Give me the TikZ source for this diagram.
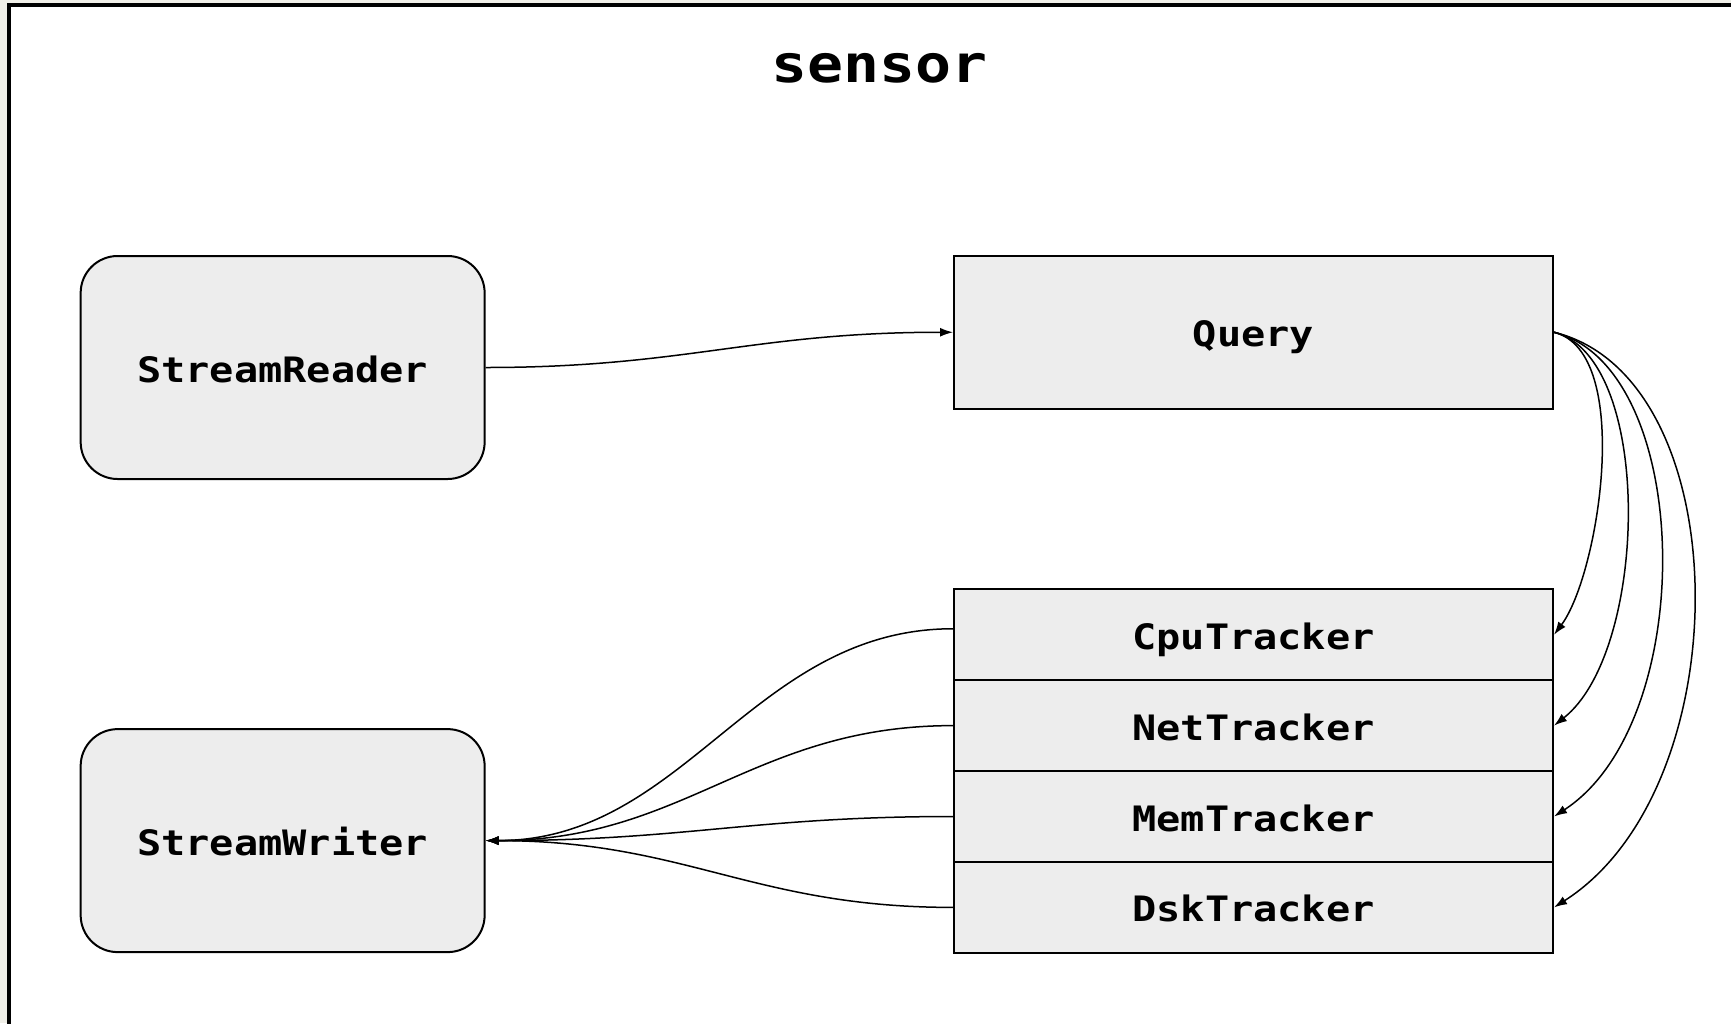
\documentclass[tikz,border=0pt]{standalone}
\usepackage{fontspec}
\usetikzlibrary{arrows.meta,calc}
\newfontfamily\plexish[FakeStretch=1.15]{DejaVu Sans Mono}
\definecolor{pagebg}{RGB}{240,239,232}
\definecolor{boxfill}{RGB}{237,237,237}
\begin{document}
\begin{tikzpicture}[x=1pt,y=-1pt,
  box/.style={draw=black,line width=2pt,fill=boxfill,inner sep=0pt,
    font=\plexish\bfseries\fontsize{35}{40}\selectfont,
    text height=29pt,text depth=0pt,align=center},
  roundbox/.style={box,rounded corners=37pt,minimum width=404pt,minimum height=223pt},
  rectbox/.style={box,minimum width=599pt},
  conn/.style={line width=1.5pt,-{Latex[length=13pt,width=9pt]}}
]
\clip (0,0) rectangle (1731,1023);
\fill[pagebg] (0,0) rectangle (1731,1023);
\draw[line width=4pt,fill=white] (9,5.3) rectangle (1780,1080);
\node[font=\plexish\bfseries\fontsize{52}{60}\selectfont,anchor=base] (title) at (879.5,82) {sensor};

\node[roundbox] (reader) at (282.65,367.5) {StreamReader};
\node[roundbox] (writer) at (282.65,840.6) {StreamWriter};
\node[rectbox,minimum height=152.5pt] (query) at (1253.5,332.25) {Query};
\node[rectbox,minimum height=90.9pt] (cpu) at (1253.5,634.75) {CpuTracker};
\node[rectbox,minimum height=90.9pt] (net) at (1253.5,725.6) {NetTracker};
\node[rectbox,minimum height=90.9pt] (mem) at (1253.5,816.5) {MemTracker};
\node[rectbox,minimum height=90.9pt] (dsk) at (1253.5,907.4) {DskTracker};

\draw[conn] (reader.east) .. controls +(200,0) and +(-200,0) .. (query.west);

\draw[conn] (query.east) .. controls +(80,20) and +(45,-60) .. (cpu.east);
\draw[conn] (query.east) .. controls +(100,25) and +(95,-75) .. (net.east);
\draw[conn] (query.east) .. controls +(140,35) and +(146,-95) .. (mem.east);
\draw[conn] (query.east) .. controls +(185,45) and +(188,-120) .. (dsk.east);

\draw[conn] ($(cpu.west)+(0,-6)$) .. controls +(-200,0) and +(200,0) .. (writer.east);
\draw[conn] (net.west) .. controls +(-200,0) and +(200,0) .. (writer.east);
\draw[conn] (mem.west) .. controls +(-200,0) and +(200,0) .. (writer.east);
\draw[conn] (dsk.west) .. controls +(-200,0) and +(200,0) .. (writer.east);
\end{tikzpicture}
\end{document}
